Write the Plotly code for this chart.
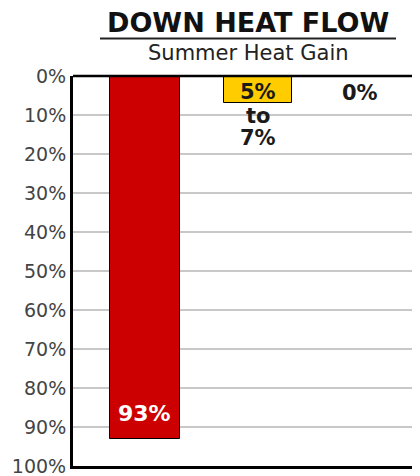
import plotly.graph_objects as go

categories = [0, 1, 2]
values = [93, 7, 0]
bar_colors = ["#cc0000", "#ffcc00", "#ffffff"]
bar_labels = ["93%", "5%", "0%"]
tick_vals = [0, 10, 20, 30, 40, 50, 60, 70, 80, 90, 100]
tick_text = [f"{v}%" for v in tick_vals]
title = "DOWN HEAT FLOW"
subtitle = "Summer Heat Gain"
range_words = ["to", "7%"]

FONT = "DejaVu Sans"

# page has an 8px body margin; work in screen pixels and convert
OFF = 8
W, H = 420 - OFF, 476 - OFF
L, T = 73 - OFF, 76 - OFF
R = 0
B = H - (466 - OFF)
pw, ph = W - L - R, H - T - B


def px_x(sx):
    return (sx - OFF - L) / pw


def px_y(sy):
    return (H - B - (sy - OFF)) / ph


fig = go.Figure()
fig.add_trace(go.Bar(
    x=categories[:2], y=values[:2], base=0,
    marker=dict(color=bar_colors[:2], line=dict(color="#000000", width=1)),
    width=[0.62, 0.6],
    hoverinfo="skip",
))

lab = dict(showarrow=False, xref="x", yref="y", xanchor="center", yanchor="middle")
fig.add_annotation(x=categories[0], y=86.6, text=f"<b>{bar_labels[0]}</b>",
                   font=dict(family=FONT, size=22, color="white"), **lab)
fig.add_annotation(x=categories[1], y=4.1, text=f"<b>{bar_labels[1]}</b>",
                   font=dict(family=FONT, size=21, color="#1a1a1a"), **lab)
fig.add_annotation(x=categories[1], y=10.3, text=f"<b>{range_words[0]}</b>",
                   font=dict(family=FONT, size=21, color="#1a1a1a"), **lab)
fig.add_annotation(x=categories[1], y=16.0, text=f"<b>{range_words[1]}</b>",
                   font=dict(family=FONT, size=21, color="#1a1a1a"), **lab)
fig.add_annotation(x=categories[2] - 0.097, y=4.4, text=f"<b>{bar_labels[2]}</b>",
                   font=dict(family=FONT, size=21, color="#1a1a1a"), **lab)

# title and subtitle
fig.add_annotation(x=px_x(248), y=px_y(22.5), xref="paper", yref="paper", text=f"<b>{title}</b>",
                   showarrow=False, xanchor="center", yanchor="middle",
                   font=dict(family=FONT, size=27, color="#111111"))
fig.add_annotation(x=px_x(248), y=px_y(53), xref="paper", yref="paper", text=subtitle,
                   showarrow=False, xanchor="center", yanchor="middle",
                   font=dict(family=FONT, size=21, color="#222222"))
fig.add_shape(type="line", xref="paper", yref="paper",
              x0=px_x(100), x1=px_x(396), y0=px_y(38.5), y1=px_y(38.5),
              line=dict(color="#222222", width=2))

fig.update_layout(
    width=W, height=H,
    margin=dict(l=L, r=R, t=T, b=B, pad=0),
    paper_bgcolor="white", plot_bgcolor="white",
    showlegend=False,
    bargap=0,
)
fig.update_xaxes(range=[-0.637, 2.434], showgrid=False, showticklabels=False, zeroline=False,
                 showline=True, linecolor="black", linewidth=3, mirror=False)
fig.update_yaxes(range=[100, 0], tickvals=tick_vals, ticktext=tick_text,
                 showgrid=True, gridcolor="#c8c8c8", gridwidth=1.5, zeroline=False,
                 showline=True, linecolor="black", linewidth=3, mirror=False,
                 ticks="", ticklabeloverflow="allow",
                 tickfont=dict(family=FONT, size=19, color="#444444"))
fig.add_shape(type="line", xref="paper", yref="paper", x0=0, x1=1, y0=1, y1=1,
              line=dict(color="black", width=2.5))

fig.write_html("out.html")
